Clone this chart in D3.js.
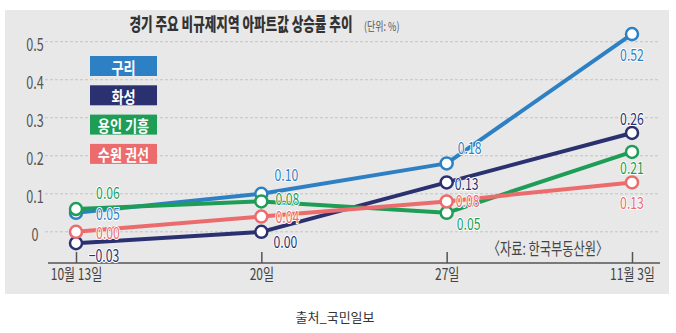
<!DOCTYPE html>
<html>
<head>
<meta charset="utf-8">
<script src="https://cdn.jsdelivr.net/npm/d3@7"></script>
<style>
  body { margin: 0; background: #fff; }
  text { font-family: "Noto Sans CJK KR", "Liberation Sans Narrow", sans-serif; }
</style>
</head>
<body>
<svg id="chart" width="676" height="333"></svg>
<script>
// data
const dates = ['10월 13일', '20일', '27일', '11월 3일'];
const regions = ['구리', '화성', '용인 기흥', '수원 권선'];
const guri = [0.05, 0.10, 0.18, 0.52];
const hwaseong = [-0.03, 0.00, 0.13, 0.26];
const yongin = [0.06, 0.08, 0.05, 0.21];
const suwon = [0.00, 0.04, 0.08, 0.13];
const yTicks = [0, 0.1, 0.2, 0.3, 0.4, 0.5];

const colors = ['#2e80c4', '#2b3170', '#1d9d55', '#ec6b6d'];

// label offsets per point (dx, dy from the marker)
const labelOffsets = [
  [[32, 0], [25, -20], [23, -17], [0, 19]],
  [[28, 11], [24, 9], [20, 0], [0, -15]],
  [[32, -18], [26, -4], [22, 10], [0, 15]],
  [[32, 0], [26, -1], [21, -2], [0, 19]]
];

const series = [guri, hwaseong, yongin, suwon].map((vals, i) => ({
  name: regions[i], values: vals, color: colors[i], offsets: labelOffsets[i]
}));

const svg = d3.select('#chart');

// squeeze text horizontally, the original uses a condensed face
function condense(sel, k) {
  sel.each(function() {
    const w = this.getComputedTextLength();
    d3.select(this).attr('textLength', w * k).attr('lengthAdjust', 'spacingAndGlyphs');
  });
}

svg.append('rect')
  .attr('x', 5).attr('y', 10).attr('width', 664).attr('height', 284)
  .attr('fill', '#e8e8e8');

const x = d3.scalePoint().domain(dates).range([76, 632]);
const y = d3.scaleLinear().domain([-0.082, 0.5]).range([263, 41.7]);

// grid
svg.append('g').selectAll('line').data(yTicks).join('line')
  .attr('x1', 45).attr('x2', 660)
  .attr('y1', d => y(d)).attr('y2', d => y(d))
  .attr('stroke', '#c4c4c4').attr('stroke-dasharray', '3,2');

svg.append('g').selectAll('text').data(yTicks).join('text')
  .attr('x', 35).attr('y', d => y(d) + 1.5)
  .attr('text-anchor', 'middle').attr('dominant-baseline', 'central')
  .attr('font-size', 18).attr('fill', '#555')
  .text(d => d === 0 ? '0' : d3.format('.1f')(d))
  .call(condense, 0.7);

// x axis
const xAxis = svg.append('g').attr('transform', `translate(0,${y(-0.082)})`)
  .call(d3.axisBottom(x).tickSize(-11).tickPadding(15));
xAxis.select('.domain').remove();
xAxis.append('line').attr('x1', 48).attr('x2', 660)
  .attr('stroke', '#555').attr('stroke-width', 1.5);
xAxis.selectAll('.tick line').attr('stroke', '#555').attr('stroke-width', 1.5);
xAxis.selectAll('.tick text')
  .attr('font-size', 16).attr('fill', '#444')
  .attr('font-family', '"Noto Sans CJK KR", sans-serif')
  .attr('dy', '0.1em')
  .call(condense, 0.75);

// title
svg.append('text')
  .attr('x', 241).attr('y', 31).attr('text-anchor', 'middle')
  .attr('font-size', 18).attr('font-weight', 900).attr('fill', '#333')
  .text('경기 주요 비규제지역 아파트값 상승률 추이')
  .call(condense, 0.7);
svg.append('text')
  .attr('x', 364).attr('y', 31)
  .attr('font-size', 12).attr('fill', '#555')
  .text('(단위: %)')
  .call(condense, 0.75);

svg.append('text')
  .attr('x', 548).attr('y', 255).attr('text-anchor', 'middle')
  .attr('font-size', 17).attr('fill', '#444')
  .text('〈자료: 한국부동산원〉')
  .call(condense, 0.72);

// lines
const line = d3.line().x((d, i) => x(dates[i])).y(d => y(d));
svg.append('g').selectAll('path').data(series).join('path')
  .attr('d', d => line(d.values))
  .attr('fill', 'none').attr('stroke', d => d.color)
  .attr('stroke-width', 4).attr('stroke-linejoin', 'round');

series.forEach(s => {
  const g = svg.append('g');
  g.selectAll('circle').data(s.values).join('circle')
    .attr('cx', (d, i) => x(dates[i])).attr('cy', d => y(d)).attr('r', 6)
    .attr('fill', '#fff').attr('stroke', s.color).attr('stroke-width', 2.5);
});

series.forEach(s => {
  svg.append('g').selectAll('text').data(s.values).join('text')
    .attr('x', (d, i) => x(dates[i]) + s.offsets[i][0])
    .attr('y', (d, i) => y(d) + s.offsets[i][1])
    .attr('text-anchor', 'middle').attr('dominant-baseline', 'central')
    .attr('font-size', 17).attr('fill', s.color)
    .attr('stroke', '#fff').attr('stroke-width', 2).attr('paint-order', 'stroke')
    .text(d => d < 0 ? '\u2212' + d3.format('.2f')(-d) : d3.format('.2f')(d))
    .call(condense, 0.72);
});

// legend boxes
const leg = svg.append('g').selectAll('g').data(series).join('g')
  .attr('transform', (d, i) => `translate(90,${56 + i * 29.3})`);
leg.append('rect').attr('width', 67).attr('height', 20).attr('fill', d => d.color);
leg.append('text')
  .attr('x', 33.5).attr('y', 10.5)
  .attr('text-anchor', 'middle').attr('dominant-baseline', 'central')
  .attr('font-size', 16).attr('font-weight', 'bold').attr('fill', '#fff')
  .text(d => d.name)
  .call(condense, 0.82);

// footer
svg.append('text')
  .attr('x', 335).attr('y', 322).attr('text-anchor', 'middle')
  .attr('font-size', 13).attr('fill', '#333')
  .text('출처_국민일보');
</script>
</body>
</html>
